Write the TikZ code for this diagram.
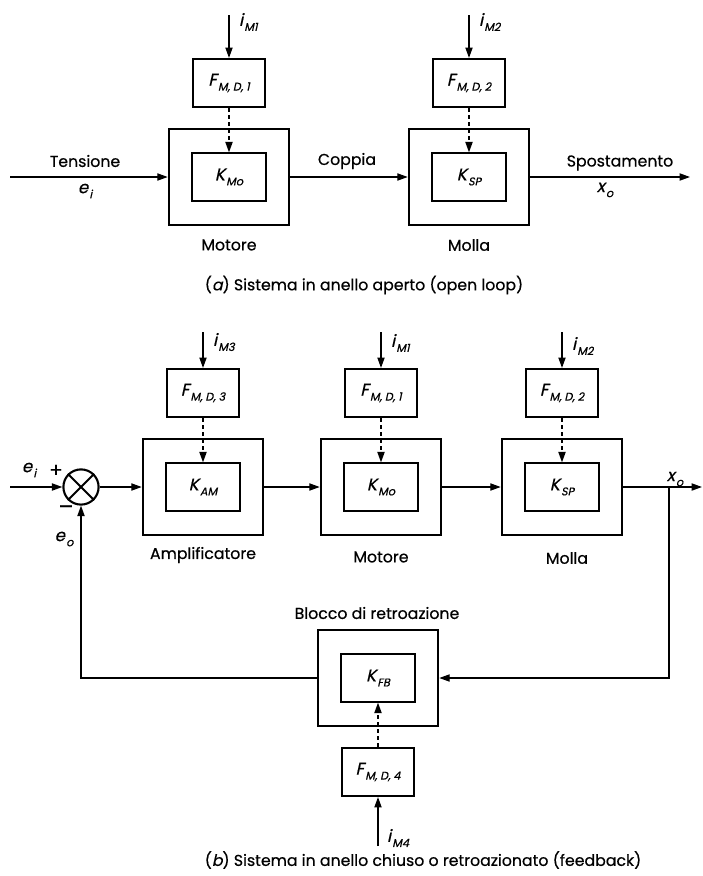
\documentclass[tikz,border=0pt]{standalone}
\usepackage{fontspec}
\setmainfont{Poppins}[FakeBold=0.5]
\newfontfamily\slfont{Poppins}[FakeSlant=0.22, FakeBold=0.5]
\usetikzlibrary{arrows.meta}

% italic symbol with small subscript
\newcommand{\blab}[2]{{\slfont #1\kern0.8pt\raisebox{-0.55ex}{\fontsize{8}{9}\selectfont #2}}}

\begin{document}
\begin{tikzpicture}[x=0.025cm, y=-0.025cm,
  outer/.style={draw, line width=1.8pt, minimum width=3cm, minimum height=2.4cm},
  inner/.style={draw, line width=1.5pt, minimum width=1.85cm, minimum height=1.18cm,
                font=\fontsize{12}{13}\selectfont},
  dist/.style={draw, line width=1.5pt, minimum width=1.8cm, minimum height=1.2cm,
               font=\fontsize{12}{13}\selectfont},
  sumpt/.style={circle, draw, line width=1.5pt, minimum size=0.88cm, inner sep=0pt},
  sig/.style={line width=0.9pt, -{Triangle[length=2.6mm, width=1.8mm]}},
  dsig/.style={sig, dash pattern=on 3pt off 2pt},
  lbl/.style={font=\fontsize{11.2}{13}\selectfont},
  symb/.style={font=\fontsize{12}{13}\selectfont},
]
\useasboundingbox (0,0) rectangle (703,876);

% (a) open loop
\node[outer] (mot1) at (229,177) {};
\node[inner] (kmo1) at (229,177) {\blab{K}{Mo}};
\node[dist] (fd1) at (229,83) {\blab{F}{M, D, 1}};
\coordinate (im1) at (229,15);

\node[outer] (mol1) at (469,177) {};
\node[inner] (ksp1) at (469,177) {\blab{K}{SP}};
\node[dist] (fd2) at (469,83) {\blab{F}{M, D, 2}};
\coordinate (im2) at (469,15);

\coordinate (in1) at (10,177);
\coordinate (out1) at (690,177);

\draw[sig] (im1) -- (fd1);
\draw[dsig] (fd1) -- (kmo1);
\draw[sig] (im2) -- (fd2);
\draw[dsig] (fd2) -- (ksp1);
\draw[sig] (in1) -- (mot1);
\draw[sig] (mot1) -- (mol1);
\draw[sig] (mol1) -- (out1);

\node[symb, anchor=west] (lim1) at (234,22) {\blab{i}{M1}};
\node[symb, anchor=west] (lim2) at (474,22) {\blab{i}{M2}};
\node[lbl] (ltens) at (85,161) {Tensione};
\node[symb] (lei1) at (85,191) {\blab{e}{i}};
\node[lbl] (lcop) at (347,161) {Coppia};
\node[lbl] (lspo) at (620,163) {Spostamento};
\node[symb] (lxo1) at (605,190) {\blab{x}{o}};
\node[lbl] (lmot1) at (229,245) {Motore};
\node[lbl] (lmol1) at (469,245) {Molla};
\node[lbl] (capa) at (364,285) {({\slfont a}) Sistema in anello aperto (open loop)};

% (b) closed loop
\node[sumpt] (sum) at (81,487) {};
\draw[line width=1.5pt] (sum.north west) -- (sum.south east);
\draw[line width=1.5pt] (sum.north east) -- (sum.south west);

\node[outer] (amp) at (203,487) {};
\node[inner] (kam) at (203,487) {\blab{K}{AM}};
\node[dist] (fd3) at (203,393) {\blab{F}{M, D, 3}};
\coordinate (im3) at (203,332);

\node[outer] (mot2) at (381,487) {};
\node[inner] (kmo2) at (381,487) {\blab{K}{Mo}};
\node[dist] (fd5) at (381,393) {\blab{F}{M, D, 1}};
\coordinate (im5) at (381,332);

\node[outer] (mol2) at (562,487) {};
\node[inner] (ksp2) at (562,487) {\blab{K}{SP}};
\node[dist] (fd6) at (562,393) {\blab{F}{M, D, 2}};
\coordinate (im6) at (562,332);

\node[outer] (fb) at (378,678) {};
\node[inner] (kfb) at (378,678) {\blab{K}{FB}};
\node[dist] (fd4) at (378,772) {\blab{F}{M, D, 4}};
\coordinate (im4) at (378,846);

\coordinate (in2) at (10,487);
\coordinate (br) at (669,487);
\coordinate (out2) at (702,487);

\draw[sig] (in2) -- (sum);
\draw[sig] (sum) -- (amp);
\draw[sig] (amp) -- (mot2);
\draw[sig] (mot2) -- (mol2);
\draw[sig] (mol2) -- (out2);
\draw[sig] (br) |- (fb.east);
\draw[sig] (fb.west) -| (sum.south);

\draw[sig] (im3) -- (fd3);
\draw[dsig] (fd3) -- (kam);
\draw[sig] (im5) -- (fd5);
\draw[dsig] (fd5) -- (kmo2);
\draw[sig] (im6) -- (fd6);
\draw[dsig] (fd6) -- (ksp2);
\draw[sig] (im4) -- (fd4);
\draw[dsig] (fd4) -- (kfb);

\node[symb] (lei2) at (29,470) {\blab{e}{i}};
\node[font=\fontsize{14}{14}\selectfont] (lplus) at (56,471) {+};
\node[font=\fontsize{16}{16}\selectfont] (lminus) at (66,510) {–};
\node[symb] (leo) at (64,539) {\blab{e}{o}};
\node[symb] (lxo2) at (675,479) {\blab{x}{o}};
\node[symb, anchor=west] (lim3) at (208,342) {\blab{i}{M3}};
\node[symb, anchor=west] (lim5) at (386,343) {\blab{i}{M1}};
\node[symb, anchor=west] (lim6) at (567,346) {\blab{i}{M2}};
\node[symb, anchor=west] (lim4) at (382,838) {\blab{i}{M4}};
\node[lbl] (lamp) at (203,555) {Amplificatore};
\node[lbl] (lmot2) at (381,557) {Motore};
\node[lbl] (lmol2) at (567,558) {Molla};
\node[lbl] (lblk) at (377,613) {Blocco di retroazione};
\node[lbl] (capb) at (423,860) {({\slfont b}) Sistema in anello chiuso o retroazionato (feedback)};
\end{tikzpicture}
\end{document}
